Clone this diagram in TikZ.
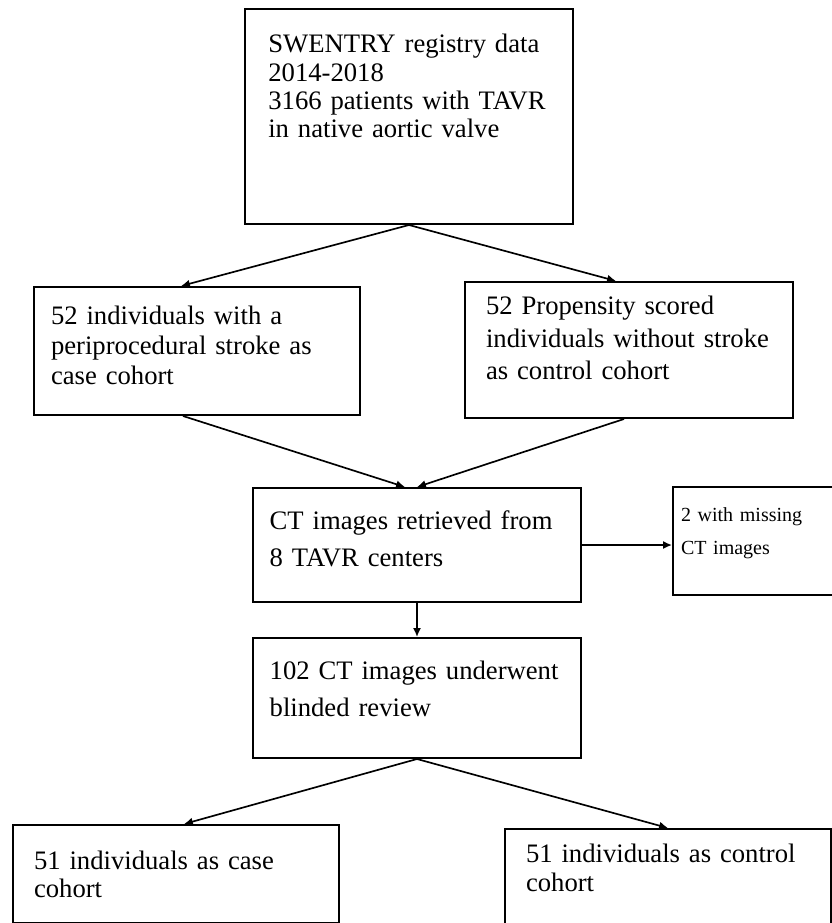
\documentclass[tikz,border=0pt]{standalone}
\usepackage{fontspec}
\setmainfont{Liberation Serif}
\usetikzlibrary{arrows.meta}

\begin{document}
\begin{tikzpicture}[
    x=1pt, y=-1pt,
    box/.style={
        draw, line width=0.9pt, anchor=north west, align=left,
        inner ysep=0pt,
    },
    lh/.style={ font=\fontsize{12}{#1}\selectfont, },
    arr/.style={ -{Latex[length=4pt,width=3.6pt]}, line width=0.75pt, },
]
\useasboundingbox (0,0) rectangle (374.4,415.35);

\node[box, lh=12.75, inner xsep=10.5pt, text width=126.6pt,
    text height=19.7pt, text depth=77.05pt] (reg) at (109.8,3.6)
    {SWENTRY registry data\\2014-2018\\3166 patients with TAVR\\in native aortic valve};

\node[box, lh=13.5, inner xsep=7.65pt, text width=131.4pt,
    text height=17pt, text depth=40.6pt] (case) at (14.85,128.7)
    {52 individuals with a\\periprocedural stroke as\\case cohort};
\node[box, lh=14.6, inner xsep=9.45pt, text width=128.7pt,
    text height=14.8pt, text depth=46.4pt] (ctrl) at (208.8,126.45)
    {52 Propensity scored\\individuals without stroke\\as control cohort};

\node[box, lh=16.6, inner xsep=7.5pt, text width=132.6pt,
    text height=18.8pt, text depth=32.5pt] (ct) at (113.4,219.15)
    {CT images retrieved from\\8 TAVR centers};
\node[box, font=\fontsize{9}{14.85}\selectfont, inner xsep=3.6pt, text width=70.4pt,
    text height=15.6pt, text depth=33pt] (miss) at (302.4,218.7)
    {2 with missing\\CT images};

\node[box, lh=16.6, inner xsep=7.5pt, text width=132.6pt,
    text height=18.8pt, text depth=35.2pt] (rev) at (113.4,286.65)
    {102 CT images underwent\\blinded review};

\node[box, lh=12.6, inner xsep=9.45pt, text width=127.8pt,
    text height=20.2pt, text depth=23.9pt] (case51) at (5.4,370.8)
    {51 individuals as case\\cohort};
\node[box, lh=13.05, inner xsep=9.45pt, text width=127.8pt,
    text height=15.2pt, text depth=32.2pt] (ctrl51) at (226.8,372.6)
    {51 individuals as control\\cohort};

\draw[arr] (reg.south) -- ([xshift=-7.2pt]case.north);
\draw[arr] (reg.south) -- ([xshift=-5.85pt]ctrl.north);
\draw[arr] ([xshift=-6.3pt]case.south) -- ([xshift=-5.4pt]ct.north);
\draw[arr] ([xshift=-2.25pt]ctrl.south) -- (ct.north);
\draw[arr] (ct.east) -- (ct.east -| miss.west);
\draw[arr] (ct.south) -- (rev.north);
\draw[arr] (rev.south) -- ([xshift=3.6pt]case51.north);
\draw[arr] (rev.south) -- (ctrl51.north);
\end{tikzpicture}
\end{document}
